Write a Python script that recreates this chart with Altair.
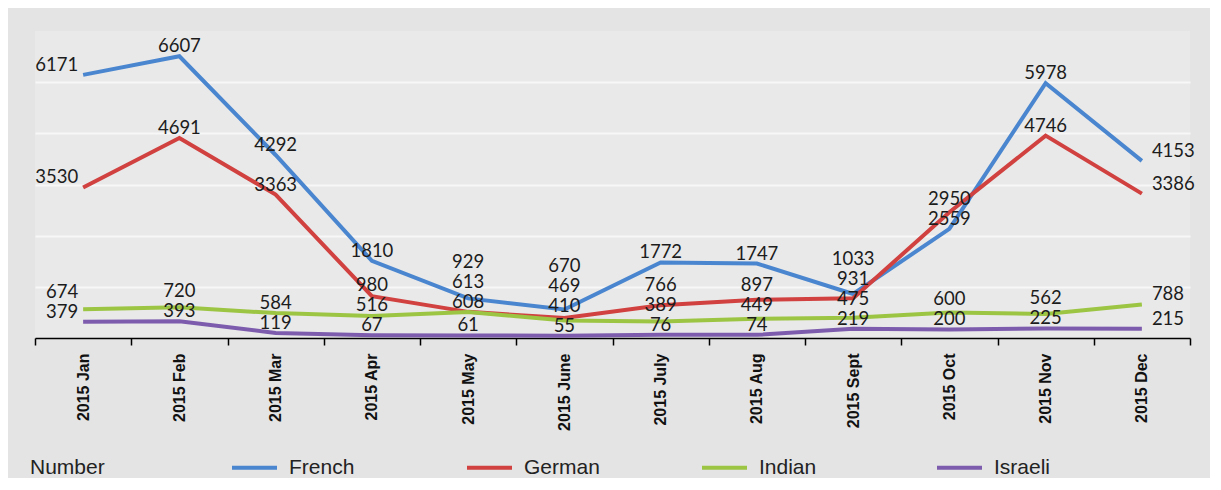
import altair as alt
import pandas as pd

months = ["2015 Jan", "2015 Feb", "2015 Mar", "2015 Apr", "2015 May", "2015 June",
          "2015 July", "2015 Aug", "2015 Sept", "2015 Oct", "2015 Nov", "2015 Dec"]
series_names = ["French", "German", "Indian", "Israeli"]
french = [6171, 6607, 4292, 1810, 929, 670, 1772, 1747, 1033, 2559, 5978, 4153]
german = [3530, 4691, 3363, 980, 613, 469, 766, 897, 931, 2950, 4746, 3386]
indian = [674, 720, 584, 516, 608, 410, 389, 449, 475, 600, 562, 788]
israeli = [379, 393, 119, 67, 61, 55, 76, 74, 219, 200, 225, 215]
grid_values = [1200, 2400, 3600, 4800, 6000]
y_domain = [0, 7200]
colors = ["#4A86CF", "#D0413F", "#9DC544", "#7D5CAE"]

PLOT_W = 1155
PLOT_H = 307
units_per_px = (y_domain[1] - y_domain[0]) / PLOT_H
label_lift = 10 * units_per_px   # labels sit a little above their point
label_gap = 20 * units_per_px    # minimum vertical spacing between labels of one month

rows = []
for name, vals in zip(series_names, [french, german, indian, israeli]):
    for m, v in zip(months, vals):
        rows.append({"month": m, "series": name, "value": v})
df = pd.DataFrame(rows)

# simple label de-overlap: stack labels upward within each month
df["label_y"] = 0.0
for m in months:
    sub = df[df["month"] == m].sort_values("value")
    prev = None
    for idx, r in sub.iterrows():
        ly = r["value"] + label_lift
        if prev is not None:
            ly = max(ly, prev + label_gap)
        df.loc[idx, "label_y"] = ly
        prev = ly
df["pos"] = "mid"
df.loc[df["month"] == months[0], "pos"] = "first"
df.loc[df["month"] == months[-1], "pos"] = "last"

x_enc = alt.X("month:N", sort=months, bandPosition=0.5,
              scale=alt.Scale(type="band", domain=months, paddingInner=0, paddingOuter=0),
              axis=alt.Axis(title=None, labelAngle=-90, labelFont="Liberation Sans",
                            labelFontWeight="bold", labelFontSize=16, labelColor="#111111",
                            labelPadding=8, tickBand="extent", tickColor="#000000", tickSize=7,
                            tickWidth=1.5, domainColor="#000000", domainWidth=1.5, grid=False))
y_axis = alt.Axis(title=None, values=grid_values, labels=False, ticks=False, domain=False,
                  grid=True, gridColor="#f7f7f7", gridWidth=2)
y_scale = alt.Scale(domain=y_domain, nice=False, zero=True)

color_enc = alt.Color("series:N", sort=series_names,
                      scale=alt.Scale(domain=series_names, range=colors),
                      legend=alt.Legend(orient="none", legendX=-5, legendY=412,
                                        direction="horizontal", columns=4, gridAlign="all",
                                        title="Number", titleOrient="left", titlePadding=125,
                                        titleBaseline="line-top", titleLineHeight=15,
                                        titleFont="Liberation Sans", titleFontSize=21,
                                        titleFontWeight="normal", titleColor="#222222",
                                        labelFont="Liberation Sans", labelFontSize=21,
                                        labelColor="#222222", labelOffset=10,
                                        symbolType="stroke", symbolStrokeWidth=4,
                                        symbolSize=2025, columnPadding=94))

base = alt.Chart(df)

lines = base.mark_line(strokeWidth=4).encode(
    x=x_enc,
    y=alt.Y("value:Q", scale=y_scale, axis=y_axis),
    color=color_enc,
    detail="series:N",
)

text_style = dict(font="Lato", fontSize=18.5, color="#1c1c1c", baseline="middle")

def label_layer(pos, align, dx):
    return base.transform_filter(alt.datum.pos == pos).mark_text(
        align=align, dx=dx, **text_style
    ).encode(
        x=x_enc,
        y=alt.Y("label_y:Q", scale=y_scale, axis=y_axis),
        text=alt.Text("value:Q", format="d"),
    )

chart = alt.layer(
    lines,
    label_layer("mid", "center", 0),
    label_layer("first", "right", -5),
    label_layer("last", "left", 10),
).properties(
    width=PLOT_W, height=PLOT_H,
    autosize=alt.AutoSizeParams(type="none"),
    padding={"left": 27, "top": 23, "right": 20, "bottom": 140},
).configure(
    background="#e4e4e4",
).configure_view(
    fill="#e9e9e9", stroke=None,
)

chart.save("out.html", embed_options={"renderer": "svg", "actions": False})
